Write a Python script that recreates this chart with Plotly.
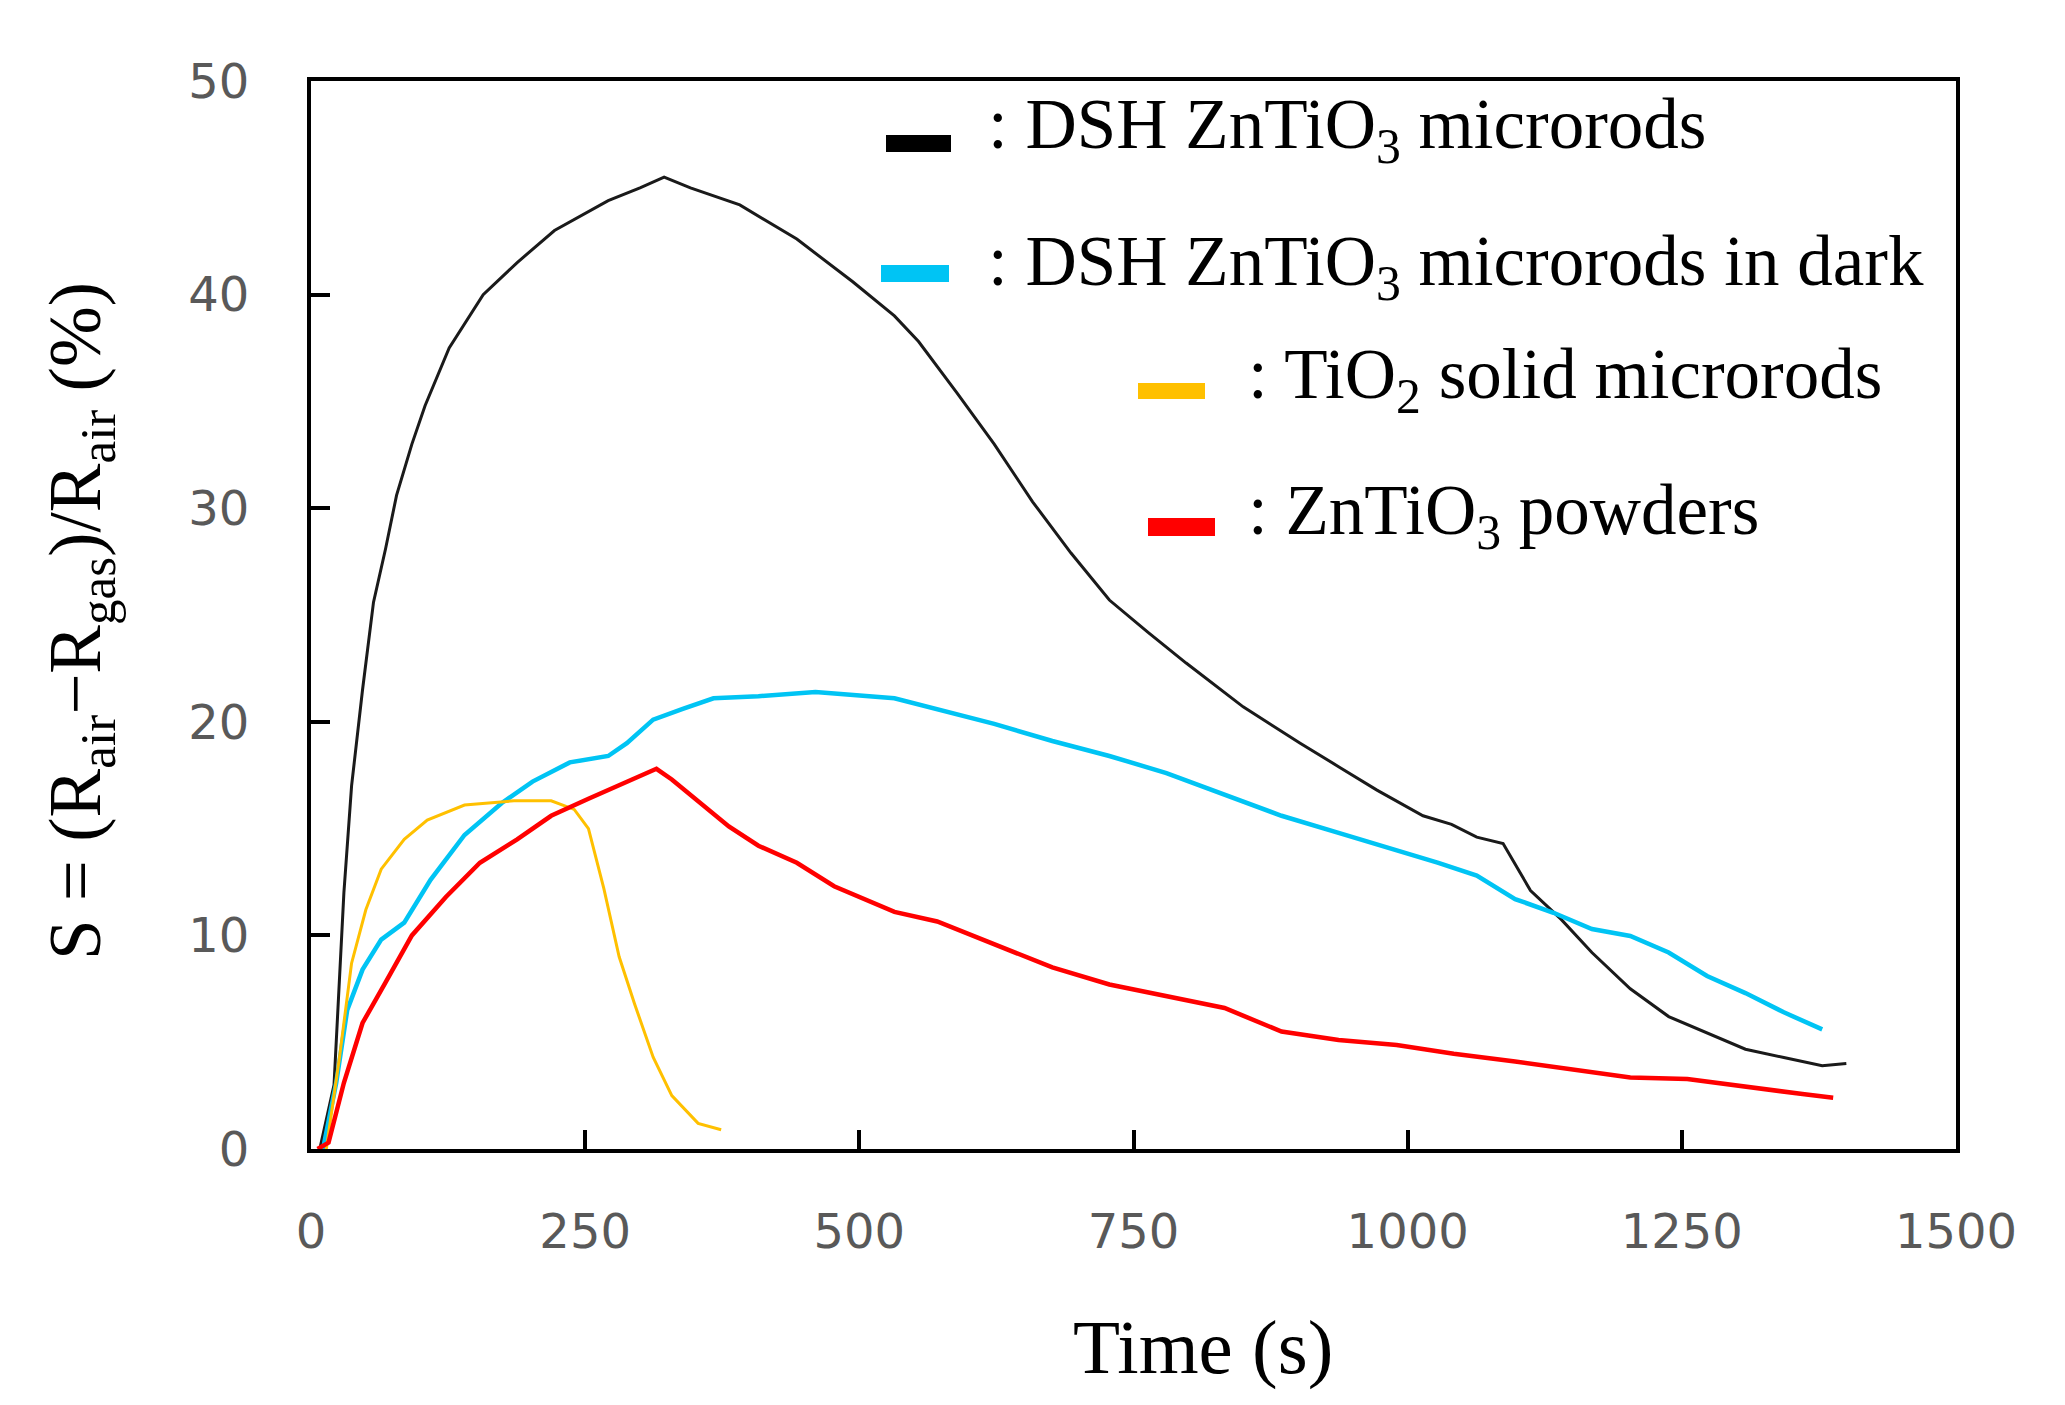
import plotly.graph_objects as go

# ---- data ----
black_t = [8, 21, 30, 37, 47, 57, 68, 78, 92, 104, 126, 157, 188, 222, 271, 300, 322, 346,
           391, 443, 494, 532, 554, 589, 623, 658, 693, 728, 763, 798, 850, 902, 937, 972,
           1014, 1040, 1063, 1087, 1112, 1140, 1168, 1203, 1238, 1273, 1308, 1343, 1378, 1400]
black_s = [0, 3, 12, 17, 21.5, 25.6, 28.1, 30.6, 33, 34.8, 37.5, 40, 41.5, 43, 44.4, 45, 45.5, 45,
           44.2, 42.6, 40.6, 39, 37.8, 35.4, 33.0, 30.3, 27.9, 25.7, 24.2, 22.75, 20.7, 19.0, 17.9, 16.8,
           15.6, 15.2, 14.6, 14.3, 12.1, 10.75, 9.2, 7.5, 6.2, 5.45, 4.67, 4.28, 3.9, 4.0]

cyan_t = [11, 23, 33, 47, 64, 85, 109, 140, 174, 202, 236, 271, 288, 312, 339, 367, 408, 460,
          532, 571, 623, 676, 728, 780, 833, 885, 937, 990, 1028, 1063, 1098, 1133, 1168, 1203,
          1238, 1273, 1308, 1343, 1378]
cyan_s = [0, 3.1, 6.5, 8.4, 9.8, 10.6, 12.6, 14.7, 16.2, 17.2, 18.1, 18.4, 19.0, 20.1, 20.6, 21.1, 21.2, 21.4,
          21.1, 20.6, 19.9, 19.1, 18.4, 17.6, 16.6, 15.6, 14.8, 14.0, 13.4, 12.8, 11.7, 11.06, 10.3, 9.97,
          9.2, 8.1, 7.3, 6.4, 5.6]

yellow_t = [14, 26, 37, 50, 64, 85, 106, 140, 185, 219, 240, 253, 267, 281, 295, 312, 329, 353, 374]
yellow_s = [0, 4.3, 8.7, 11.2, 13.1, 14.5, 15.4, 16.1, 16.3, 16.3, 15.9, 15.0, 12.2, 9.0, 6.8, 4.3, 2.5, 1.2, 0.9]

red_t = [6, 16, 30, 47, 68, 92, 123, 154, 188, 219, 253, 288, 315, 329, 350, 381, 408, 443, 477,
         532, 571, 623, 676, 728, 780, 833, 885, 937, 990, 1042, 1098, 1150, 1203, 1255, 1308, 1360, 1388]
red_s = [0, 0.3, 3.1, 5.9, 7.8, 10.0, 11.8, 13.4, 14.5, 15.6, 16.4, 17.2, 17.8, 17.3, 16.4, 15.1, 14.2, 13.4, 12.3,
         11.1, 10.65, 9.57, 8.5, 7.7, 7.15, 6.6, 5.5, 5.1, 4.87, 4.46, 4.1, 3.75, 3.35, 3.28, 2.9, 2.57, 2.4]

x_ticks = [0, 250, 500, 750, 1000, 1250, 1500]
y_ticks = [0, 10, 20, 30, 40, 50]

legend_labels = [": DSH ZnTiO<sub>3</sub> microrods",
                 ": DSH ZnTiO<sub>3</sub> microrods in dark",
                 ": TiO<sub>2</sub> solid microrods",
                 ": ZnTiO<sub>3</sub> powders"]

# ---- layout geometry (pixels in the reference) ----
W, H = 2065, 1405
L, R, T, B = 311, 1956, 81, 1149
OFF = 8  # page body margin shifts the whole figure


def px(x):
    return (x - L) / (R - L)


def py(y):
    return (B - y) / (B - T)


BLACK, CYAN, YELLOW, RED = '#000000', '#00C4F4', '#FFC000', '#FF0000'

fig = go.Figure()
fig.add_trace(go.Scatter(x=black_t, y=black_s, mode='lines', line=dict(color='#1a1a1a', width=3)))
fig.add_trace(go.Scatter(x=cyan_t, y=cyan_s, mode='lines', line=dict(color=CYAN, width=4.5)))
fig.add_trace(go.Scatter(x=yellow_t, y=yellow_s, mode='lines', line=dict(color=YELLOW, width=3)))
fig.add_trace(go.Scatter(x=red_t, y=red_s, mode='lines', line=dict(color=RED, width=4.5)))

# hand-placed legend (staggered like the original)
leg = [  # bar x0, x1, bar y0, y1, text x, text y-centre
    (886, 951, 135, 152, 986, 130, BLACK),
    (881, 949, 265, 282, 986, 266, CYAN),
    (1138, 1205, 383, 399, 1246, 379, YELLOW),
    (1148, 1215, 518, 536, 1246, 515, RED),
]
for (bx0, bx1, by0, by1, tx, ty, col), lab in zip(leg, legend_labels):
    fig.add_shape(type='rect', xref='paper', yref='paper',
                  x0=px(bx0), x1=px(bx1), y0=py(by1), y1=py(by0),
                  fillcolor=col, line=dict(width=0))
    fig.add_annotation(xref='paper', yref='paper', x=px(tx), y=py(ty), text=lab,
                       showarrow=False, xanchor='left', yanchor='middle',
                       font=dict(family='Liberation Serif', size=71, color='black'))

# axis titles
fig.add_annotation(xref='paper', yref='paper', x=px(80), y=py(621), textangle=-90,
                   text='S = (R<sub>air</sub>\u2212R<sub>gas</sub>)/R<sub>air</sub> (%)',
                   showarrow=False, xanchor='center', yanchor='middle',
                   font=dict(family='Liberation Serif', size=73, color='black'))
fig.add_annotation(xref='paper', yref='paper', x=px(1203), y=py(1347), text='Time (s)',
                   showarrow=False, xanchor='center', yanchor='middle',
                   font=dict(family='Liberation Serif', size=77, color='black'))

tickfont = dict(family='DejaVu Sans', size=48, color='#595959')
fig.update_layout(
    width=W, height=H,
    margin=dict(l=L - OFF, r=W - (R - OFF), t=T - OFF, b=H - (B - OFF), pad=0),
    paper_bgcolor='white', plot_bgcolor='white',
    showlegend=False,
)
fig.update_xaxes(range=[0, 1500], tickvals=x_ticks, ticks='inside', ticklen=19, tickwidth=4,
                 tickcolor='black', showline=True, linecolor='black', linewidth=4, mirror=True,
                 showgrid=False, zeroline=False, tickfont=tickfont, ticklabelstandoff=37)
fig.update_yaxes(range=[0, 50], tickvals=y_ticks, ticks='inside', ticklen=19, tickwidth=4,
                 tickcolor='black', showline=True, linecolor='black', linewidth=4, mirror=True,
                 showgrid=False, zeroline=False, tickfont=tickfont, ticklabelstandoff=48)

fig.write_html("out.html")
